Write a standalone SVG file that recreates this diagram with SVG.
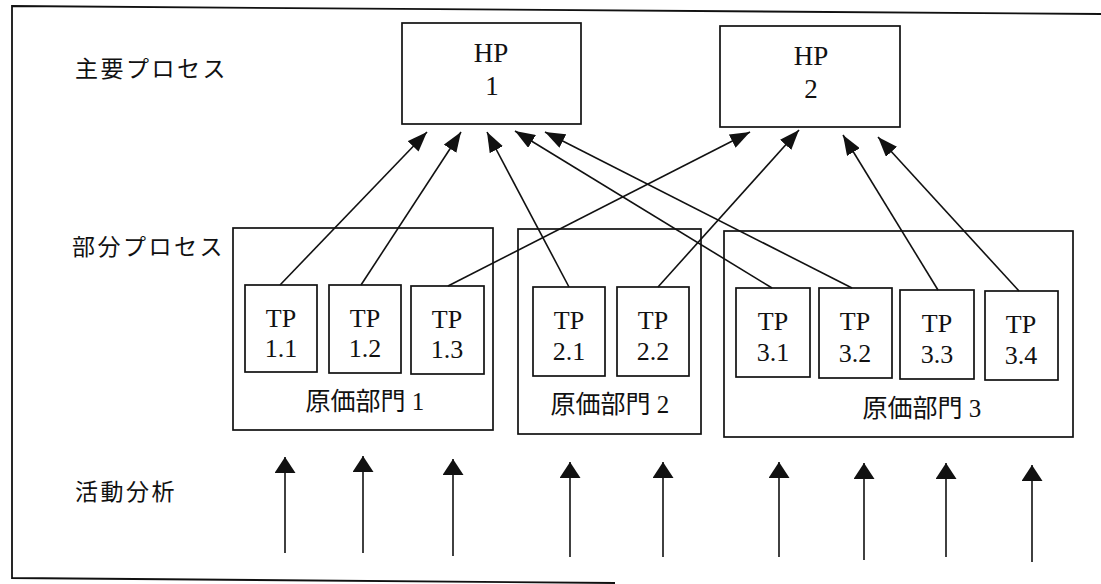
<svg xmlns="http://www.w3.org/2000/svg" width="1101" height="584" viewBox="0 0 1101 584">
  <style>
    .box { fill: #fff; stroke: #111; stroke-width: 1.7; }
    .grp { fill: none; stroke: #111; stroke-width: 1.7; }
    .lat { font-family: "Liberation Serif", "Noto Sans CJK JP", serif; fill: #111; text-anchor: middle; }
    .jp { font-family: "Liberation Serif", "Noto Sans CJK JP", serif; fill: #111; }
    .lvl { font-size: 23px; letter-spacing: 2.5px; }
    .hp { font-size: 27px; }
    .tp { font-size: 26px; }
    .cc { font-size: 25px; text-anchor: middle; }
    .edge { stroke: #111; stroke-width: 1.6; fill: none; marker-end: url(#head); }
    .feed { stroke: #111; stroke-width: 1.6; fill: none; marker-end: url(#headUp); }
  </style>
  <defs>
    <marker id="head" markerUnits="userSpaceOnUse" markerWidth="20" markerHeight="15" refX="20" refY="7.5" orient="auto">
      <path d="M0,0 L20,7.5 L0,15 z" fill="#111"/>
    </marker>
    <marker id="headUp" markerUnits="userSpaceOnUse" markerWidth="16" markerHeight="21" refX="16" refY="10.5" orient="auto">
      <path d="M0,0 L16,10.5 L0,21 z" fill="#111"/>
    </marker>
  </defs>

  <rect width="1101" height="584" fill="#fff"/>

  <!-- outer frame -->
  <path d="M1101,14 L12,6 L12,578 L615,583" fill="none" stroke="#111" stroke-width="1.8"/>

  <!-- level labels -->
  <text class="jp lvl" x="75" y="77">主要プロセス</text>
  <text class="jp lvl" x="72" y="255">部分プロセス</text>
  <text class="jp lvl" x="75" y="500">活動分析</text>

  <!-- main processes -->
  <g id="hp1">
    <rect class="box" x="402" y="23" width="179" height="101"/>
    <text class="lat hp" x="491" y="62">HP</text>
    <text class="lat hp" x="492" y="95">1</text>
  </g>
  <g id="hp2">
    <rect class="box" x="720" y="26" width="180" height="101"/>
    <text class="lat hp" x="811" y="65">HP</text>
    <text class="lat hp" x="811" y="98">2</text>
  </g>

  <!-- cost centres -->
  <g id="cc1">
    <rect class="grp" x="233" y="228" width="260" height="202"/>
    <text class="jp cc" x="365" y="410">原価部門 1</text>
  </g>
  <g id="cc2">
    <rect class="grp" x="518" y="229" width="183" height="205"/>
    <text class="jp cc" x="610" y="413">原価部門 2</text>
  </g>
  <g id="cc3">
    <rect class="grp" x="724" y="231" width="349" height="206"/>
    <text class="jp cc" x="922" y="417">原価部門 3</text>
  </g>

  <!-- sub-processes -->
  <g id="tp11">
    <rect class="box" x="245" y="285" width="72" height="87"/>
    <text class="lat tp" x="281" y="327">TP</text>
    <text class="lat tp" x="281" y="357">1.1</text>
  </g>
  <g id="tp12">
    <rect class="box" x="329" y="285" width="72" height="88"/>
    <text class="lat tp" x="365" y="327">TP</text>
    <text class="lat tp" x="365" y="357">1.2</text>
  </g>
  <g id="tp13">
    <rect class="box" x="411" y="286" width="73" height="88"/>
    <text class="lat tp" x="447" y="328">TP</text>
    <text class="lat tp" x="447" y="358">1.3</text>
  </g>
  <g id="tp21">
    <rect class="box" x="533" y="287" width="72" height="89"/>
    <text class="lat tp" x="569" y="329">TP</text>
    <text class="lat tp" x="569" y="360">2.1</text>
  </g>
  <g id="tp22">
    <rect class="box" x="617" y="287" width="72" height="89"/>
    <text class="lat tp" x="653" y="329">TP</text>
    <text class="lat tp" x="653" y="360">2.2</text>
  </g>
  <g id="tp31">
    <rect class="box" x="736" y="288" width="74" height="89"/>
    <text class="lat tp" x="773" y="330">TP</text>
    <text class="lat tp" x="773" y="361">3.1</text>
  </g>
  <g id="tp32">
    <rect class="box" x="819" y="288" width="73" height="90"/>
    <text class="lat tp" x="855" y="330">TP</text>
    <text class="lat tp" x="855" y="362">3.2</text>
  </g>
  <g id="tp33">
    <rect class="box" x="900" y="290" width="74" height="89"/>
    <text class="lat tp" x="937" y="332">TP</text>
    <text class="lat tp" x="937" y="363">3.3</text>
  </g>
  <g id="tp34">
    <rect class="box" x="985" y="291" width="73" height="89"/>
    <text class="lat tp" x="1021" y="333">TP</text>
    <text class="lat tp" x="1021" y="364">3.4</text>
  </g>

  <!-- connectors -->
  <g id="connectors">
    <line class="edge" x1="280" y1="285" x2="427" y2="132"/>
    <line class="edge" x1="361" y1="285" x2="461" y2="132"/>
    <line class="edge" x1="448" y1="286" x2="750" y2="132"/>
    <line class="edge" x1="569" y1="287" x2="487" y2="132"/>
    <line class="edge" x1="658" y1="287" x2="799" y2="130"/>
    <line class="edge" x1="772" y1="288" x2="515" y2="131"/>
    <line class="edge" x1="852" y1="288" x2="545" y2="132"/>
    <line class="edge" x1="938" y1="290" x2="843" y2="135"/>
    <line class="edge" x1="1019" y1="291" x2="878" y2="137"/>

    <line class="feed" x1="285" y1="553" x2="285" y2="457"/>
    <line class="feed" x1="363" y1="553" x2="363" y2="456"/>
    <line class="feed" x1="453" y1="556" x2="453" y2="459"/>
    <line class="feed" x1="570" y1="557" x2="570" y2="462"/>
    <line class="feed" x1="663" y1="557" x2="663" y2="462"/>
    <line class="feed" x1="779" y1="557" x2="779" y2="462"/>
    <line class="feed" x1="864" y1="560" x2="864" y2="463"/>
    <line class="feed" x1="946" y1="557" x2="946" y2="463"/>
    <line class="feed" x1="1032" y1="562" x2="1032" y2="465"/>
  </g>
</svg>
